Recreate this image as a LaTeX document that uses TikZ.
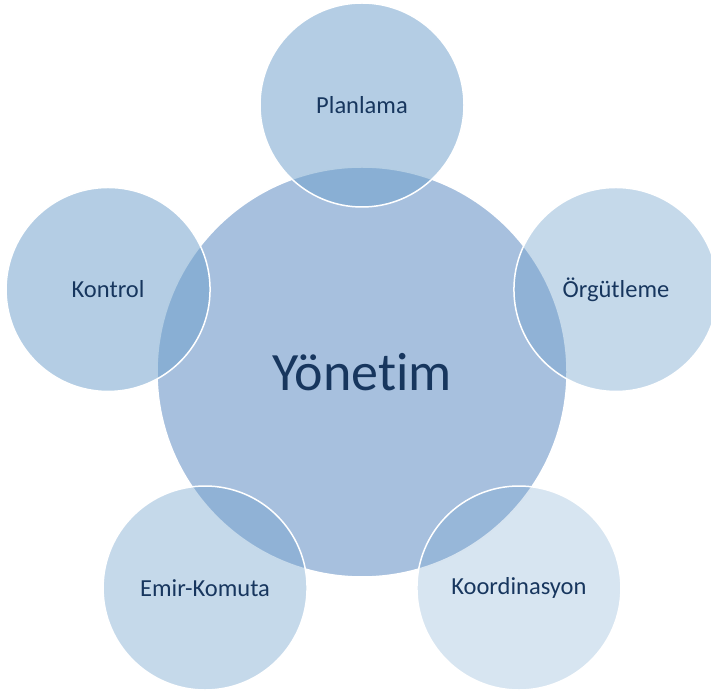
\documentclass[tikz,border=0pt]{standalone}
\usepackage{fontspec}
\setmainfont[Ligatures={NoCommon}]{Carlito}
\usetikzlibrary{calc}
\definecolor{accent}{RGB}{79,129,189}
\definecolor{petal}{RGB}{111,160,203}
\definecolor{labeltext}{RGB}{23,54,94}
\tikzset{
  hub/.style={circle, minimum size=410pt, inner sep=0pt, fill=accent, fill opacity=0.5,
    draw=white, line width=1.5pt, text opacity=1, text=labeltext, font=\fontsize{54}{62}\selectfont},
  spoke/.style={circle, minimum size=204pt, inner sep=0pt, fill=petal, fill opacity=#1,
    draw=white, line width=1.5pt, text opacity=1, text=labeltext, font=\fontsize{24.5}{28}\selectfont},
}
\begin{document}
\begin{tikzpicture}[x=1pt,y=1pt]
  \useasboundingbox (0,0) rectangle (711,698);
  \clip (0,0) rectangle (711,698);
  \coordinate (c) at (362,326);
  \node[hub] (yonetim) at (c) {Yönetim};
  \node[spoke=0.52] (planlama) at ($(c)+(90:267)$) {Planlama};
  \node[spoke=0.40] (orgutleme) at ($(c)+(18:267)$) {Örgütleme};
  \node[spoke=0.28] (koordinasyon) at ($(c)+(-54:267)$) {Koordinasyon};
  \node[spoke=0.40] (emir) at ($(c)+(-126:267)$) {Emir-Komuta};
  \node[spoke=0.52] (kontrol) at ($(c)+(162:267)$) {Kontrol};
\end{tikzpicture}
\end{document}
